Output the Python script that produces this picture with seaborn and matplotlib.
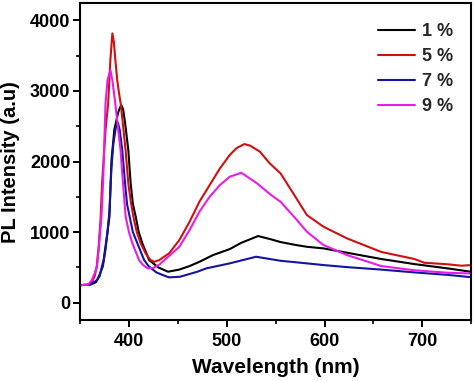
import pandas as pd
import numpy as np
import seaborn as sns
import matplotlib
matplotlib.use("Agg")
import matplotlib.pyplot as plt
from matplotlib.ticker import MultipleLocator

sns.set_style("ticks")
plt.rcParams['font.family'] = ['Liberation Sans', 'DejaVu Sans']
plt.rcParams['font.weight'] = 'bold'

# spectra (wavelength nm, intensity a.u)
wl_1 = [350, 360, 366, 370, 374, 378, 380, 382.1, 385, 389, 392, 394, 396, 399.3, 401.7, 404,
        406.9, 410, 413.7, 420.6, 430, 440, 451.5, 462, 472, 486, 503, 515, 532, 545, 555, 570,
        582, 599, 623, 658, 692, 702, 726, 750]
pl_1 = [250, 255, 290, 380, 600, 1000, 1218, 2021, 2450, 2700, 2800, 2740, 2550, 2163, 1691, 1400,
        1218, 1000, 841, 605, 500, 440, 470, 520, 580, 676, 760, 850, 945, 900, 860, 820,
        793, 770, 709, 620, 548, 530, 487, 439]

wl_5 = [350, 358, 362, 365, 367, 369, 371, 372.5, 374.2, 376, 378.7, 381, 383, 384.5, 386, 388,
        390, 391.5, 394, 396.5, 399.3, 402, 404.5, 408, 412, 417, 422, 426, 431, 441, 451.5, 462,
        472, 482.5, 493, 503, 510, 518, 524, 534, 544, 555, 568, 582, 599, 623, 658, 692, 702,
        726, 740, 750]
pl_5 = [250, 255, 290, 380, 520, 800, 1200, 1700, 2050, 2450, 2824, 3450, 3815, 3700, 3450, 3150,
        2950, 2824, 2500, 2163, 1691, 1420, 1218, 1000, 841, 700, 605, 581, 605, 700, 888, 1148,
        1431, 1667, 1903, 2092, 2190, 2248, 2225, 2139, 1974, 1833, 1550, 1242, 1077, 912, 720, 620, 567,
        545, 525, 534]

wl_7 = [350, 360, 364, 367.3, 370, 373.2, 376, 378, 380, 382, 384, 386.5, 388.7, 390.5, 393.1, 396,
        398, 400.7, 404, 408.6, 415.5, 420, 428, 436, 441, 452, 470, 479, 503, 530, 555, 582,
        599, 623, 658, 692, 726, 750]
pl_7 = [250, 258, 290, 321, 400, 510, 750, 1000, 1300, 1900, 2250, 2480, 2550, 2450, 2163, 1691,
        1400, 1218, 1000, 841, 605, 520, 430, 385, 360, 368, 440, 487, 558, 652, 595, 558,
        534, 505, 470, 430, 395, 362]

wl_9 = [350, 358, 362, 365, 367.3, 369, 371.8, 373.5, 374.2, 376, 378, 381, 383, 386, 389, 391.4,
        393, 396.6, 400, 403.5, 410.3, 414, 419, 425, 431, 440, 451.5, 462, 472, 482.5, 493, 503,
        515, 531, 545, 555, 570, 582, 599, 623, 658, 692, 726, 750]
pl_9 = [250, 255, 321, 420, 510, 750, 1218, 1700, 2021, 2824, 3150, 3296, 3150, 2824, 2450, 2163,
        1850, 1218, 1000, 841, 605, 540, 487, 495, 540, 650, 793, 1030, 1289, 1502, 1667, 1785,
        1842, 1691, 1530, 1431, 1200, 1006, 817, 676, 520, 460, 425, 415]

labels = ["1 %", "5 %", "7 %", "9 %"]
colors = ["#000000", "#d01010", "#1414a0", "#e81ce8"]

frames = []
for lab, x, y in zip(labels, [wl_1, wl_5, wl_7, wl_9], [pl_1, pl_5, pl_7, pl_9]):
    frames.append(pd.DataFrame({"Wavelength": x, "PL": y, "Sample": lab}))
df = pd.concat(frames, ignore_index=True)

fig = plt.figure(figsize=(4.74, 3.81), dpi=100)
ax = fig.add_axes([0.169, 0.159, 0.825, 0.832])

sns.lineplot(data=df, x="Wavelength", y="PL", hue="Sample", palette=dict(zip(labels, colors)),
             estimator=None, sort=False, linewidth=1.5, ax=ax)

ax.set_xlim(350, 750)
ax.set_ylim(-250, 4240)
ax.xaxis.set_major_locator(MultipleLocator(100))
ax.xaxis.set_minor_locator(MultipleLocator(50))
ax.yaxis.set_major_locator(MultipleLocator(1000))
ax.yaxis.set_minor_locator(MultipleLocator(500))
ax.tick_params(which="major", direction="out", length=5, width=1.4, labelsize=13, pad=2,
               color="black", labelcolor="black")
ax.tick_params(which="minor", direction="out", length=3, width=1.2, color="black")
ax.tick_params(axis="x", which="major", pad=4)
for lab in ax.get_xticklabels() + ax.get_yticklabels():
    lab.set_fontweight("bold")
for s in ax.spines.values():
    s.set_linewidth(1.5)
    s.set_color("black")
    s.set_visible(True)

ax.set_xlabel("Wavelength (nm)", fontsize=15, fontweight="bold", labelpad=6, color="black")
ax.set_ylabel("PL Intensity (a.u)", fontsize=14.5, fontweight="bold", labelpad=7, color="black")

leg = ax.legend(loc="upper right", bbox_to_anchor=(0.995, 0.99), frameon=False,
                prop={"size": 13, "weight": "bold"}, handlelength=2.0, handletextpad=0.4,
                labelspacing=0.45)
for h in leg.get_lines():
    h.set_linewidth(1.5)

fig.savefig("out.png", dpi=100)
